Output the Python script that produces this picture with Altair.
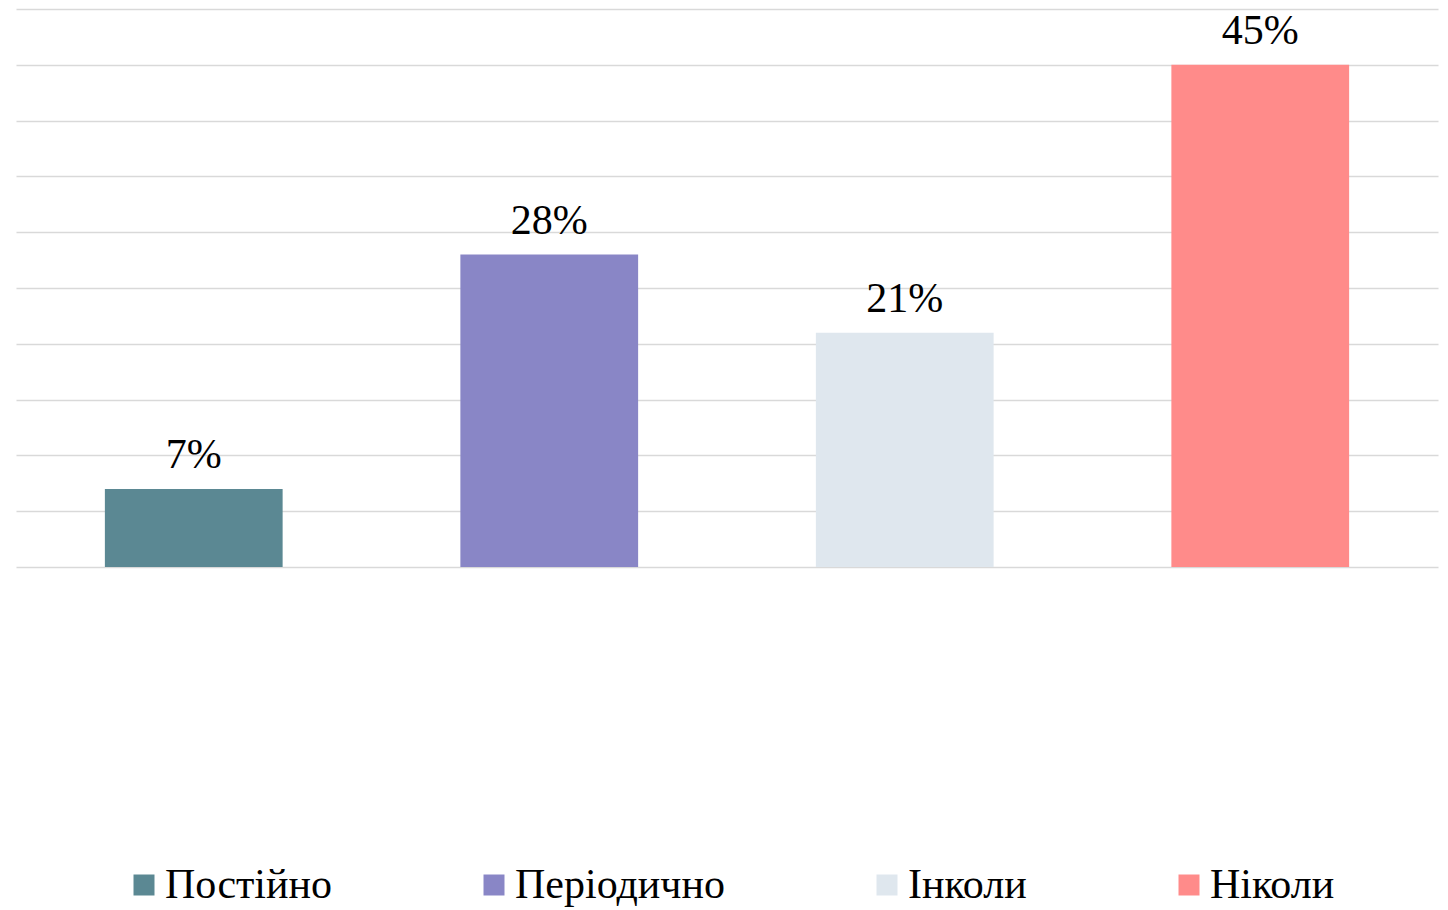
import altair as alt
import pandas as pd

categories = ["Постійно", "Періодично", "Інколи", "Ніколи"]
values = [7, 28, 21, 45]
labels = ["7%", "28%", "21%", "45%"]
colors = ["#5B8893", "#8986C6", "#DFE7EE", "#FF8B8A"]

df = pd.DataFrame({"cat": categories, "val": values, "lbl": labels})

FONT = "Liberation Serif"

x = alt.X("cat:N", sort=categories, title=None,
          scale=alt.Scale(paddingInner=0.5, paddingOuter=0.25),
          axis=None)
y = alt.Y("val:Q", title=None,
          scale=alt.Scale(domain=[0, 50], nice=False),
          axis=alt.Axis(values=list(range(0, 51, 5)), labels=False, ticks=False,
                        domain=False, grid=True, gridColor="#D9D9D9", gridWidth=1.5))

bars = alt.Chart(df).mark_bar().encode(
    x=x, y=y,
    color=alt.Color("cat:N", sort=categories,
                    scale=alt.Scale(domain=categories, range=colors),
                    legend=alt.Legend(orient="none", legendX=107, legendY=855,
                                      direction="horizontal", title=None,
                                      symbolType="square", symbolSize=441,
                                      symbolStrokeWidth=0, symbolOpacity=1,
                                      labelFont=FONT, labelFontSize=42,
                                      labelColor="#000000", labelOffset=0,
                                      columnPadding=141, labelLimit=0))
)

text = alt.Chart(df).mark_text(font=FONT, fontSize=42, color="#000000",
                               baseline="alphabetic", dy=-21).encode(
    x=x, y=y, text="lbl:N")

chart = (bars + text).properties(
    width=1422, height=558, background="white",
    padding={"left": 8, "top": 1, "right": 2, "bottom": 5},
).configure_view(strokeWidth=0, strokeOpacity=0)

chart.save("out.html", embed_options={"renderer": "svg", "actions": False})
